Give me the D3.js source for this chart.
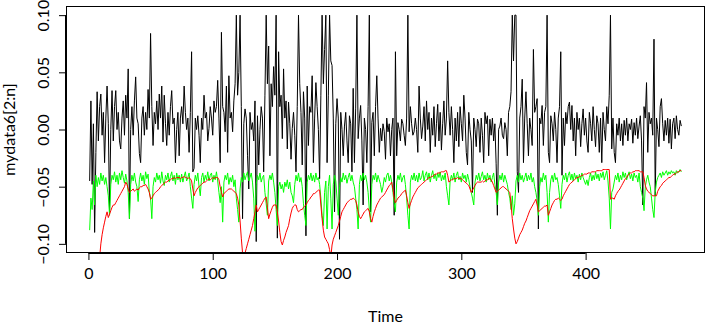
<!DOCTYPE html>
<html lang="en">
<head>
<meta charset="UTF-8" />
<title>mydata6</title>
<style>
  body { margin: 0; background: #fff; }
  .chart text { font-family: Lato, "Open Sans", sans-serif; fill: #000; }
</style>
</head>
<body>
<div class="chart"></div>
<script src="https://d3js.org/d3.v7.min.js"></script>
<script>
// values, in thousandths (-45 means -0.045)
const blackVals = [
  -45, 25, -48, 5, -90, -20, 33, -10, 20, 31,
  -5, 15, -29, 10, 38, 5, -72, 0, 34, -10,
  20, 34, 0, 15, -10, -17, 10, 25, -5, 30,
  10, 53, -78, 0, 20, -5, 25, 46, 10, 5,
  -21, -29, 10, 20, -5, 15, 0, 35, 10, 84,
  20, -14, 15, 5, 25, 0, 31, 10, 38, -11,
  30, 5, -14, 15, -5, 20, 34, 5, 10, -29,
  0, 15, -23, 10, 20, 5, 38, 15, 0, 10,
  -20, 15, 68, -37, -34, 10, 0, 12, -5, -29,
  10, 0, 30, 10, 15, -10, 1, 20, 10, -5,
  25, 15, 20, 43, 10, -29, 85, 20, 15, -2,
  38, -20, 47, 10, 15, -2, 25, 40, 100, 30,
  50, 100, 20, -78, 5, 18, 10, -23, -52, 15,
  0, 6, -10, 25, -98, 12, -31, 0, 20, 10,
  -37, 30, 100, 40, 73, -23, 40, 20, 55, 30,
  100, -95, 68, 20, 30, -8, 53, 10, 25, -17,
  24, 5, -26, 1, 15, -5, -37, 20, 100, 40,
  15, -31, 33, 10, -93, 38, -14, 20, 15, 47,
  -29, 10, 41, 20, 0, -43, 30, 100, 40, 70,
  100, -29, 30, 100, 60, 56, 10, -72, 5, 27,
  10, -96, 15, 0, -23, 3, 15, -10, -29, 12,
  5, -37, 36, -29, 18, 100, -8, 10, 21, -10,
  -66, 10, 0, -29, 20, 100, -72, 6, 15, -23,
  20, 47, 10, -20, 1, -10, 5, -2, -26, 10,
  -2, 5, -23, 0, 10, -75, 68, -23, 6, 0,
  -10, 9, 5, -5, -14, 10, 100, -2, 20, 5,
  -5, -2, 10, 0, -20, 38, 10, -8, 3, 20,
  -10, 25, 0, 15, -20, 10, -5, 20, -15, 5,
  22, -10, 15, -18, 5, 25, -5, 10, 60, 15,
  -5, 20, 0, -29, 10, -10, 15, -15, 20, 5,
  -10, 30, 10, -20, -31, 15, 0, -10, -55, 10,
  0, -15, 9, 5, -20, 10, -5, -29, 15, 5,
  12, -23, 9, -5, 10, -10, 5, -30, -75, 0,
  3, 10, -5, -8, 6, 0, -23, 15, 20, 33,
  100, 60, 100, 100, -37, -55, 10, 20, 44, -29,
  10, 33, 5, -23, 10, 0, -14, 70, 15, 20,
  27, -87, 10, 5, 21, -14, 15, 20, 100, -20,
  -29, 12, 5, -10, 15, 0, -29, 10, 20, 68,
  -40, 10, -14, 15, 5, 20, 24, 0, 21, -10,
  10, -23, 15, 0, 10, -15, 5, 18, -5, 10,
  -10, -20, 15, 5, -10, 20, 0, -15, 12, 5,
  -20, 10, -29, 15, 0, -10, 20, 5, 30, 100,
  -17, 10, -20, -29, 5, -5, 10, -10, 5, -14,
  8, -5, 10, -10, 5, 0, 9, -12, 6, -5,
  10, -8, 3, 12, -10, -66, 20, 10, 41, -20,
  15, 5, 10, -5, 79, -58, 10, 0, -15, 20,
  27, 5, -10, 8, -5, 10, -12, 9, -17, 5,
  10, -8, 12, 0, -5, 8, 3
];

const greenVals = [
  -88, -60, -70, -45, -66, -40, -50, -42, -48, -38,
  -45, -40, -48, -42, -50, -58, -75, -48, -40, -44,
  -37, -46, -40, -48, -38, -44, -36, -42, -47, -39,
  -45, -55, -78, -48, -40, -45, -38, -46, -50, -63,
  -44, -38, -45, -40, -48, -37, -43, -39, -55, -60,
  -78, -50, -42, -46, -38, -44, -40, -47, -37, -45,
  -49, -40, -44, -38, -46, -41, -37, -45, -40, -48,
  -38, -44, -40, -46, -39, -46, -41, -37, -45, -42,
  -38, -50, -60, -69, -48, -40, -45, -38, -50, -58,
  -42, -38, -46, -40, -44, -37, -45, -40, -38, -46,
  -40, -44, -37, -45, -55, -64, -50, -81, -46, -40,
  -44, -38, -48, -42, -46, -40, -50, -44, -60, -70,
  -81, -52, -42, -46, -38, -44, -40, -37, -45, -42,
  -38, -46, -60, -89, -48, -40, -44, -38, -46, -42,
  -40, -55, -65, -75, -45, -40, -44, -38, -46, -55,
  -70, -84, -50, -46, -52, -48, -55, -46, -50, -44,
  -52, -46, -55, -58, -64, -48, -40, -45, -38, -46,
  -42, -50, -65, -75, -84, -46, -40, -44, -38, -45,
  -40, -46, -38, -44, -42, -48, -60, -75, -84, -55,
  -45, -87, -50, -40, -60, -87, -48, -40, -45, -60,
  -75, -50, -42, -46, -38, -44, -40, -47, -42, -38,
  -45, -40, -46, -50, -60, -70, -87, -48, -40, -45,
  -38, -44, -40, -46, -55, -70, -81, -48, -40, -44,
  -38, -46, -40, -44, -48, -55, -50, -42, -46, -40,
  -38, -45, -40, -46, -55, -65, -72, -46, -40, -44,
  -38, -46, -42, -40, -48, -60, -75, -87, -46, -40,
  -44, -38, -45, -40, -46, -38, -44, -42, -36, -45,
  -40, -37, -44, -38, -46, -40, -36, -43, -39, -45,
  -38, -42, -37, -45, -40, -44, -38, -50, -58, -66,
  -45, -40, -44, -38, -46, -40, -37, -44, -41, -46,
  -38, -43, -40, -46, -39, -44, -50, -55, -60, -66,
  -46, -40, -44, -38, -45, -41, -37, -44, -40, -46,
  -38, -44, -40, -46, -42, -38, -48, -55, -66, -46,
  -40, -44, -38, -46, -40, -44, -48, -55, -60, -70,
  -58, -75, -65, -45, -40, -46, -38, -44, -40, -46,
  -42, -38, -45, -40, -44, -38, -46, -42, -50, -55,
  -62, -75, -50, -42, -46, -38, -44, -40, -55, -81,
  -55, -44, -40, -46, -38, -44, -42, -48, -58, -69,
  -48, -40, -44, -38, -46, -40, -37, -44, -39, -45,
  -38, -43, -40, -46, -39, -44, -38, -42, -45, -48,
  -44, -49, -42, -38, -45, -40, -44, -37, -43, -39,
  -45, -38, -42, -37, -44, -40, -36, -45, -60, -87,
  -55, -52, -46, -40, -44, -38, -46, -40, -44, -37,
  -42, -38, -44, -40, -37, -43, -39, -45, -38, -42,
  -40, -46, -38, -50, -55, -60, -71, -50, -44, -40,
  -46, -50, -60, -70, -77, -55, -46, -42, -40, -38,
  -42, -37, -40, -38, -36, -40, -37, -39, -36, -38,
  -37, -40, -36, -38, -37, -35, -37
];

const redVals = [
  null, null, null, null, null, null, null, -135, -112, -100,
  -92, -86, -81, -76, -72, -77, -74, -71, -68, -66,
  -66, -64, -62, -60, -58, -56, -54, -52, -50, -46,
  -48, -52, -55, -54, -53, -52, -54, -53, -52, -53,
  -51, -50, -50, -49, -49, -48, -50, -52, -55, -61,
  -60, -58, -56, -55, -54, -53, -52, -50, -49, -48,
  -47, -46, -46, -45, -44, -44, -43, -43, -42, -43,
  -42, -42, -42, -43, -42, -42, -41, -42, -42, -43,
  -42, -43, -45, -52, -58, -55, -53, -51, -50, -49,
  -48, -47, -46, -46, -45, -44, -43, -44, -43, -42,
  -43, -42, -42, -42, -44, -50, -55, -59, -56, -55,
  -54, -53, -52, -52, -52, -53, -54, -55, -56, -60,
  -66, -80, -95, -108, -115, -108, -104, -100, -96, -92,
  -88, -84, -78, -72, -66, -72, -70, -68, -66, -64,
  -62, -60, -59, -68, -78, -74, -71, -68, -66, -66,
  -66, -72, -80, -90, -98, -101, -97, -94, -90, -87,
  -84, -78, -73, -69, -67, -66, -66, -70, -72, -71,
  -70, -70, -68, -67, -66, -64, -62, -61, -59, -58,
  -56, -56, -55, -54, -53, -53, -66, -78, -88, -94,
  -96, -98, -100, -105, -112, -101, -96, -93, -90, -87,
  -84, -80, -76, -72, -70, -68, -66, -64, -63, -62,
  -61, -61, -60, -61, -62, -66, -72, -76, -78, -76,
  -74, -72, -71, -70, -69, -72, -78, -81, -76, -72,
  -69, -66, -64, -62, -60, -59, -58, -57, -55, -53,
  -51, -49, -48, -46, -52, -60, -64, -62, -60, -59,
  -58, -56, -55, -54, -53, -58, -64, -69, -65, -62,
  -59, -57, -55, -53, -51, -50, -49, -48, -47, -46,
  -45, -44, -43, -42, -42, -41, -41, -40, -39, -39,
  -38, -38, -38, -37, -37, -37, -36, -36, -40, -46,
  -45, -44, -44, -43, -43, -43, -42, -43, -43, -43,
  -44, -45, -46, -47, -48, -49, -52, -55, -53, -51,
  -49, -47, -46, -46, -46, -46, -45, -46, -45, -44,
  -44, -43, -43, -44, -46, -49, -52, -55, -54, -53,
  -52, -51, -50, -50, -51, -52, -53, -54, -55, -65,
  -78, -87, -95, -100, -98, -95, -92, -90, -88, -85,
  -82, -80, -77, -74, -71, -69, -67, -65, -63, -61,
  -66, -72, -71, -70, -69, -68, -67, -67, -66, -75,
  -72, -69, -66, -64, -62, -61, -61, -60, -61, -62,
  -61, -58, -56, -54, -52, -50, -48, -47, -46, -45,
  -44, -43, -42, -42, -41, -41, -40, -40, -39, -39,
  -39, -38, -38, -38, -37, -37, -37, -37, -36, -36,
  -36, -36, -36, -35, -35, -35, -35, -35, -35, -61,
  -60, -60, -61, -58, -56, -54, -53, -51, -49, -47,
  -45, -43, -42, -40, -39, -38, -38, -37, -37, -36,
  -36, -36, -36, -37, -37, -37, -42, -49, -52, -54,
  -55, -56, -57, -58, -58, -58, -58, -54, -52, -50,
  -49, -47, -46, -45, -44, -43, -42, -42, -41, -40,
  -39, -39, -38, -37, -37, -36, -36
];

const xTicks = [0, 100, 200, 300, 400];
const yTicks = [-0.10, -0.05, 0.00, 0.05, 0.10];
const yLim = [-0.10, 0.10];

const width = 708, height = 326;
const box = { left: 66, right: 705, top: 6, bottom: 253 };

const svg = d3.select('.chart')
  .append('svg')
  .attr('width', width)
  .attr('height', height);

// R style 4% padding around the data range
const n = blackVals.length;
const xPad = (n - 1) * 0.04;
const yPad = (yLim[1] - yLim[0]) * 0.04;

const xScale = d3.scaleLinear()
  .domain([1 - xPad, n + xPad])
  .range([box.left, box.right]);

const yScale = d3.scaleLinear()
  .domain([yLim[0] - yPad, yLim[1] + yPad])
  .range([box.bottom, box.top]);

svg.append('clipPath')
  .attr('id', 'plotClip')
  .append('rect')
  .attr('x', box.left)
  .attr('y', box.top)
  .attr('width', box.right - box.left)
  .attr('height', box.bottom - box.top);

const line = d3.line()
  .defined(d => d.v != null)
  .x(d => xScale(d.t))
  .y(d => yScale(d.v));

const toPoints = arr => arr.map((v, i) => ({ t: i + 1, v: v == null ? null : v / 1000 }));

const series = [
  { name: 'black', vals: blackVals, color: '#000000' },
  { name: 'green', vals: greenVals, color: '#00ff00' },
  { name: 'red', vals: redVals, color: '#ff0000' }
];

const plot = svg.append('g').attr('clip-path', 'url(#plotClip)');
series.forEach(s => {
  plot.append('path')
    .datum(toPoints(s.vals))
    .attr('fill', 'none')
    .attr('stroke', s.color)
    .attr('stroke-width', 1)
    .attr('d', line);
});

// box
svg.append('rect')
  .attr('x', box.left + 0.5)
  .attr('y', box.top + 0.5)
  .attr('width', box.right - box.left - 1)
  .attr('height', box.bottom - box.top - 1)
  .attr('fill', 'none')
  .attr('stroke', '#000')
  .attr('stroke-width', 1);

// x axis
const xAxis = d3.axisBottom(xScale)
  .tickValues(xTicks)
  .tickSize(7)
  .tickPadding(8)
  .tickFormat(d3.format('d'));

const xg = svg.append('g')
  .attr('transform', `translate(0,${box.bottom})`)
  .call(xAxis);
xg.select('.domain')
  .attr('d', `M${xScale(xTicks[0])},0.5H${xScale(xTicks[xTicks.length - 1])}`);
xg.selectAll('text').style('font-size', '16px');

// y axis (labels parallel to the axis, like R)
const yAxis = d3.axisLeft(yScale)
  .tickValues(yTicks)
  .tickSize(7)
  .tickFormat(d3.format('.2f'));

const yg = svg.append('g')
  .attr('transform', `translate(${box.left},0)`)
  .call(yAxis);
yg.select('.domain')
  .attr('d', `M-0.5,${yScale(yTicks[0])}V${yScale(yTicks[yTicks.length - 1])}`);
// each tick group is already moved to its y, so only shift left and rotate
yg.selectAll('text')
  .attr('x', null)
  .attr('y', 0)
  .attr('dy', null)
  .attr('transform', 'translate(-17,0) rotate(-90)')
  .style('text-anchor', 'middle')
  .style('font-size', '16px');

svg.selectAll('.tick line').attr('stroke', '#000');
svg.selectAll('.domain').attr('stroke', '#000');

// axis titles
svg.append('text')
  .attr('x', (box.left + box.right) / 2)
  .attr('y', 322)
  .style('text-anchor', 'middle')
  .style('font-size', '16px')
  .text('Time');

svg.append('text')
  .attr('transform', `translate(15,${(box.top + box.bottom) / 2}) rotate(-90)`)
  .style('text-anchor', 'middle')
  .style('font-size', '16px')
  .text('mydata6[2:n]');
</script>
</body>
</html>
